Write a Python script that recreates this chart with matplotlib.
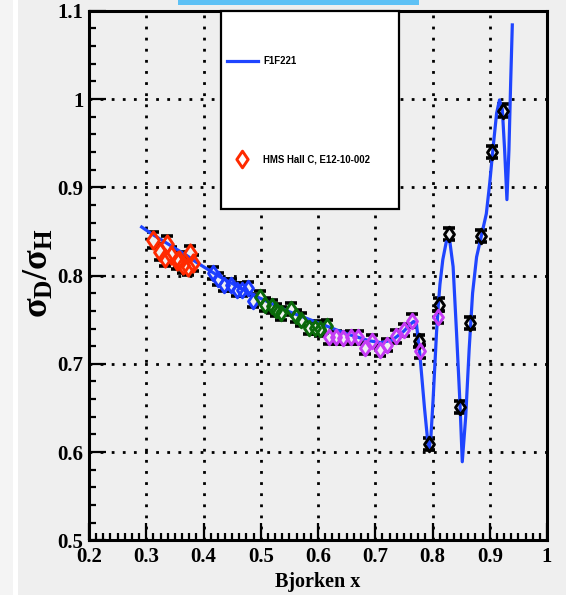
import numpy as np
import matplotlib.pyplot as plt
from matplotlib.patches import Rectangle
from matplotlib.lines import Line2D
from matplotlib.path import Path
from matplotlib.ticker import MultipleLocator, FuncFormatter

plt.rcParams["font.family"] = ["Liberation Serif", "DejaVu Serif"]
plt.rcParams["font.weight"] = "bold"
plt.rcParams["mathtext.fontset"] = "custom"
plt.rcParams["mathtext.rm"] = "Liberation Serif:bold"
plt.rcParams["mathtext.it"] = "Liberation Serif:bold"
plt.rcParams["mathtext.bf"] = "Liberation Serif:bold"

BG = "#efefef"

# HMS Hall C, E12-10-002 -- deuteron/proton cross section ratio, split by setting
red_x = [0.312, 0.324, 0.333, 0.336, 0.344, 0.353, 0.358, 0.365, 0.373, 0.376, 0.382]
red_y = [0.840, 0.827, 0.820, 0.836, 0.823, 0.816, 0.818, 0.812, 0.810, 0.825, 0.814]
red_err = 0.009

blue_x = [0.417, 0.426, 0.436, 0.448, 0.458, 0.468, 0.477, 0.486]
blue_y = [0.803, 0.796, 0.789, 0.789, 0.784, 0.784, 0.786, 0.771]

green_x = [0.499, 0.508, 0.519, 0.527, 0.536, 0.552, 0.562, 0.571, 0.585, 0.595, 0.604, 0.615]
green_y = [0.776, 0.767, 0.765, 0.761, 0.757, 0.762, 0.754, 0.750, 0.741, 0.741, 0.739, 0.743]

mag_x = [0.620, 0.632, 0.644, 0.657, 0.669, 0.682, 0.695, 0.708, 0.721, 0.736,
         0.750, 0.764, 0.779, 0.809]
mag_y = [0.730, 0.730, 0.729, 0.730, 0.730, 0.718, 0.726, 0.716, 0.721, 0.731,
         0.738, 0.749, 0.714, 0.753]

black_x = [0.777, 0.794, 0.811, 0.829, 0.848, 0.865, 0.884, 0.904, 0.924]
black_y = [0.726, 0.609, 0.767, 0.847, 0.651, 0.746, 0.845, 0.940, 0.987]
pt_err = 0.007

# F1F221 model curve
f1f221_x = [0.292, 0.31, 0.33, 0.35, 0.37, 0.39, 0.41, 0.43, 0.45, 0.47, 0.49, 0.51,
            0.53, 0.55, 0.57, 0.59, 0.61, 0.63, 0.65, 0.67, 0.69, 0.71, 0.73, 0.75,
            0.76, 0.767, 0.772, 0.778, 0.786, 0.792, 0.794, 0.797, 0.801, 0.807,
            0.810, 0.813, 0.818, 0.824, 0.830, 0.836, 0.842, 0.848, 0.852, 0.858,
            0.864, 0.870, 0.877, 0.885, 0.894, 0.900, 0.906, 0.912, 0.917, 0.922,
            0.926, 0.930, 0.9335, 0.9365, 0.9394]
f1f221_y = [0.855, 0.847, 0.839, 0.831, 0.823, 0.814, 0.806, 0.798, 0.791, 0.784,
            0.777, 0.771, 0.765, 0.759, 0.754, 0.749, 0.744, 0.739, 0.734, 0.730,
            0.726, 0.724, 0.727, 0.737, 0.744, 0.748, 0.745, 0.710, 0.650, 0.610,
            0.604, 0.615, 0.659, 0.735, 0.765, 0.790, 0.818, 0.838, 0.840, 0.810,
            0.735, 0.655, 0.589, 0.640, 0.716, 0.780, 0.821, 0.844, 0.870, 0.905,
            0.946, 0.984, 0.999, 0.988, 0.942, 0.886, 0.942, 1.018, 1.084]

x_ticks = [0.2, 0.3, 0.4, 0.5, 0.6, 0.7, 0.8, 0.9, 1.0]
y_ticks = [0.5, 0.6, 0.7, 0.8, 0.9, 1.0, 1.1]

# open diamond a little fatter than matplotlib's "d"
DIAMOND = Path([(0, 1), (0.68, 0), (0, -1), (-0.68, 0), (0, 1)],
               [Path.MOVETO, Path.LINETO, Path.LINETO, Path.LINETO, Path.CLOSEPOLY])

fig = plt.figure(figsize=(5.66, 5.95), dpi=100, facecolor=BG)
ax = fig.add_axes([89 / 566, 1 - 540.3 / 595, 458 / 566, 529.5 / 595])
ax.set_facecolor(BG)

# page decorations around the canvas
fig.patches.append(Rectangle((0, 0), 13 / 566, 1, transform=fig.transFigure,
                             facecolor="#f4f4f4", edgecolor="none", zorder=0))
fig.patches.append(Rectangle((13 / 566, 0), 5 / 566, 1, transform=fig.transFigure,
                             facecolor="white", edgecolor="none", zorder=0))
fig.patches.append(Rectangle((178 / 566, 1 - 4.5 / 595), 241 / 566, 4.5 / 595,
                             transform=fig.transFigure, facecolor="#5ec1f5",
                             edgecolor="none", zorder=0))


def draw_points(xs, ys, err, color, ms):
    ax.errorbar(xs, ys, yerr=err, fmt="none", ecolor="black", elinewidth=1.8,
                capsize=4.5, capthick=2.6, zorder=3)
    ax.plot(xs, ys, ls="none", marker=DIAMOND, ms=ms, mfc=BG, mec="none", zorder=4)
    ax.plot(xs, ys, ls="none", marker=DIAMOND, ms=ms, mfc="none", mec=color,
            mew=2.1, zorder=6)


draw_points(black_x, black_y, pt_err, "black", 10.5)
draw_points(red_x, red_y, red_err, "#ff2a00", 12.5)
draw_points(blue_x, blue_y, pt_err, "#1d3bff", 10.5)
draw_points(green_x, green_y, pt_err, "#0a6a0a", 10.5)
draw_points(mag_x, mag_y, pt_err, "#c53cf5", 10.5)

ax.plot(f1f221_x, f1f221_y, color="#1f45ff", lw=2.3, zorder=5)

ax.set_xlim(0.2, 1.0)
ax.set_ylim(0.5, 1.1)
ax.set_xticks(x_ticks)
ax.set_yticks(y_ticks)
ax.xaxis.set_minor_locator(MultipleLocator(0.0125))
ax.yaxis.set_minor_locator(MultipleLocator(0.02))
fmt = FuncFormatter(lambda v, p: f"{v:g}")
ax.xaxis.set_major_formatter(fmt)
ax.yaxis.set_major_formatter(fmt)
ax.tick_params(which="both", direction="in", top=False, right=False,
               width=1.6, labelsize=15)
ax.tick_params(which="major", length=12)
ax.tick_params(which="minor", length=5)
ax.tick_params(axis="x", pad=5)
ax.tick_params(axis="y", pad=4)
for lab in ax.get_xticklabels() + ax.get_yticklabels():
    lab.set_fontweight("bold")
for sp in ax.spines.values():
    sp.set_linewidth(2.2)

ax.grid(True, which="major", color="black", lw=2.0, ls=(0, (1, 3)))
ax.set_axisbelow(True)

# axis titles
fig.text(318 / 566, 1 - 582 / 595, "Bjorken x", fontsize=14.5, fontweight="bold",
         ha="center", va="center")
fig.text(39 / 566, 1 - 273 / 595, r"$\sigma_{D}/\sigma_{H}$", rotation=90,
         fontsize=26, ha="center", va="center")

# legend box
ax.add_patch(Rectangle((0.2873, 0.6257), 0.3896, 0.3743, transform=ax.transAxes,
                       facecolor="white", edgecolor="black", lw=1.6, zorder=8,
                       clip_on=False))
ax.add_line(Line2D([0.3007, 0.3683], [0.9058, 0.9058], transform=ax.transAxes,
                   color="#1f45ff", lw=2.3, zorder=9))
ax.plot([0.3334], [0.7195], transform=ax.transAxes, marker=DIAMOND, ms=12,
        mfc="white", mec="#ff2a00", mew=2.1, zorder=9)
ax.text(0.3806, 0.9058, "F1F221", transform=ax.transAxes, fontsize=6.9,
        fontweight="bold", family=["Liberation Sans", "DejaVu Sans"],
        va="center", ha="left", zorder=9)
ax.text(0.3806, 0.7195, "HMS Hall C, E12-10-002", transform=ax.transAxes,
        fontsize=6.9, fontweight="bold", family=["Liberation Sans", "DejaVu Sans"],
        va="center", ha="left", zorder=9)

fig.savefig("out.png", dpi=100, facecolor=BG)
